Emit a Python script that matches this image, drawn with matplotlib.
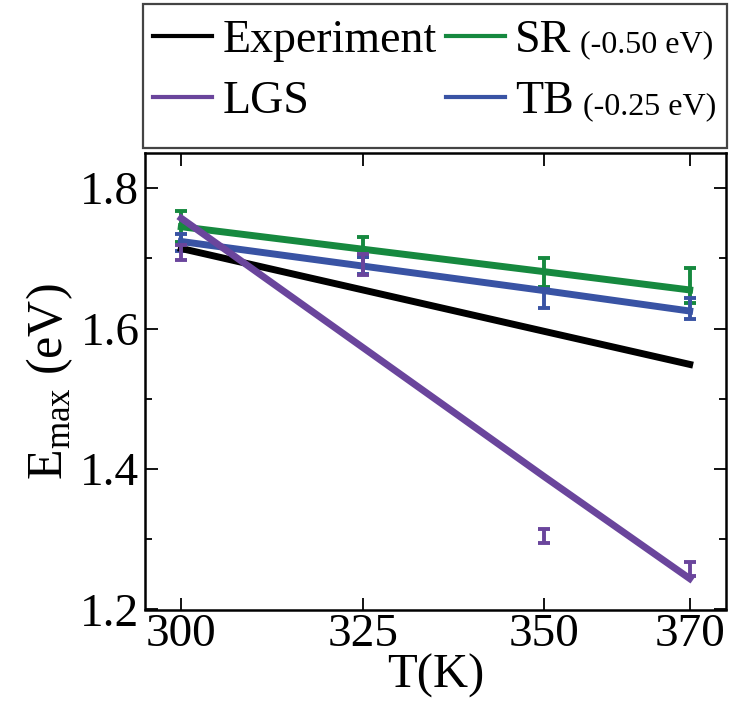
import matplotlib
matplotlib.use("Agg")
import matplotlib.pyplot as plt
from matplotlib.patches import Rectangle
from matplotlib.ticker import MultipleLocator

plt.rcParams["font.family"] = ["Liberation Serif", "DejaVu Serif"]
plt.rcParams["mathtext.fontset"] = "custom"
plt.rcParams["mathtext.rm"] = "Liberation Serif"

temps = [300, 325, 350, 370]

# linear fits drawn as solid lines
fit_exp = [1.714, 1.655, 1.596, 1.549]
fit_lgs = [1.757, 1.573, 1.389, 1.244]
fit_sr = [1.745, 1.713, 1.681, 1.655]
fit_tb = [1.724, 1.689, 1.654, 1.625]

# computed points with their error bars
lgs_mean = [1.708, 1.691, 1.304, 1.258]
lgs_err = [0.011, 0.015, 0.010, 0.010]
sr_mean = [1.745, 1.716, 1.680, 1.661]
sr_err = [0.022, 0.014, 0.021, 0.025]
tb_mean = [1.722, 1.690, 1.643, 1.629]
tb_err = [0.012, 0.012, 0.013, 0.015]

labels = ["Experiment", "LGS", "SR", "TB"]
shifts = ["(-0.50 eV)", "(-0.25 eV)"]

c_exp = "#000000"
c_lgs = "#6a459c"
c_sr = "#16893f"
c_tb = "#3953a4"

fig = plt.figure(figsize=(7.30, 7.04), dpi=100)
ax = fig.add_axes([145 / 730, 1 - 609.5 / 704, 581 / 730, 456.5 / 704])

lw = 5.0
eb = dict(fmt="none", elinewidth=2.8, capsize=4.5, capthick=2.8)
ax.errorbar(temps, sr_mean, yerr=sr_err, ecolor=c_sr, zorder=2, **eb)
ax.errorbar(temps, tb_mean, yerr=tb_err, ecolor=c_tb, zorder=2, **eb)
ax.errorbar(temps, lgs_mean, yerr=lgs_err, ecolor=c_lgs, zorder=4, **eb)

h_exp, = ax.plot(temps, fit_exp, color=c_exp, lw=lw, zorder=3)
h_sr, = ax.plot(temps, fit_sr, color=c_sr, lw=lw, zorder=3)
h_tb, = ax.plot(temps, fit_tb, color=c_tb, lw=lw, zorder=3)
h_lgs, = ax.plot(temps, fit_lgs, color=c_lgs, lw=lw, zorder=3.5)

ax.set_xlim(295, 375)
ax.set_ylim(1.2, 1.85)
ax.set_xticks(temps)
ax.yaxis.set_major_locator(MultipleLocator(0.2))
ax.yaxis.set_minor_locator(MultipleLocator(0.1))
ax.tick_params(which="both", direction="in", top=True, right=True,
               labelsize=34, width=1.3)
ax.tick_params(which="major", length=9)
ax.tick_params(which="minor", length=5)
ax.tick_params(axis="x", pad=3)
ax.tick_params(axis="y", pad=4)
for sp in ax.spines.values():
    sp.set_linewidth(1.8)

ax.set_xlabel("T(K)", fontsize=35, labelpad=-2)
ax.set_ylabel("E$_\\mathregular{max}$ (eV)", fontsize=36, labelpad=4)

# legend panel above the axes
fig.patches.append(Rectangle((143 / 730, 1 - 148 / 704), 584 / 730, 144 / 704,
                             transform=fig.transFigure, fill=False,
                             edgecolor="#444444", linewidth=1.6))
leg = fig.legend([h_exp, h_lgs, h_sr, h_tb], labels, ncol=2,
                 loc="upper left", bbox_to_anchor=(144 / 730, 1 - 10 / 704),
                 fontsize=33, frameon=False,
                 handlelength=1.29, handletextpad=0.22, columnspacing=0.2,
                 labelspacing=0.42, borderpad=0.2, borderaxespad=0)
for line in leg.get_lines():
    line.set_linewidth(3.0)

# smaller energy-shift notes after the SR and TB labels
fig.canvas.draw()
renderer = fig.canvas.get_renderer()
for txt, note in zip(leg.get_texts()[2:], shifts):
    bb = txt.get_window_extent(renderer)
    x0, y0 = fig.transFigure.inverted().transform((bb.x1 + 9, bb.y0 + bb.height * 0.40))
    fig.text(x0, y0, note, fontsize=23, va="center", ha="left")

fig.savefig("out.png", dpi=100)
